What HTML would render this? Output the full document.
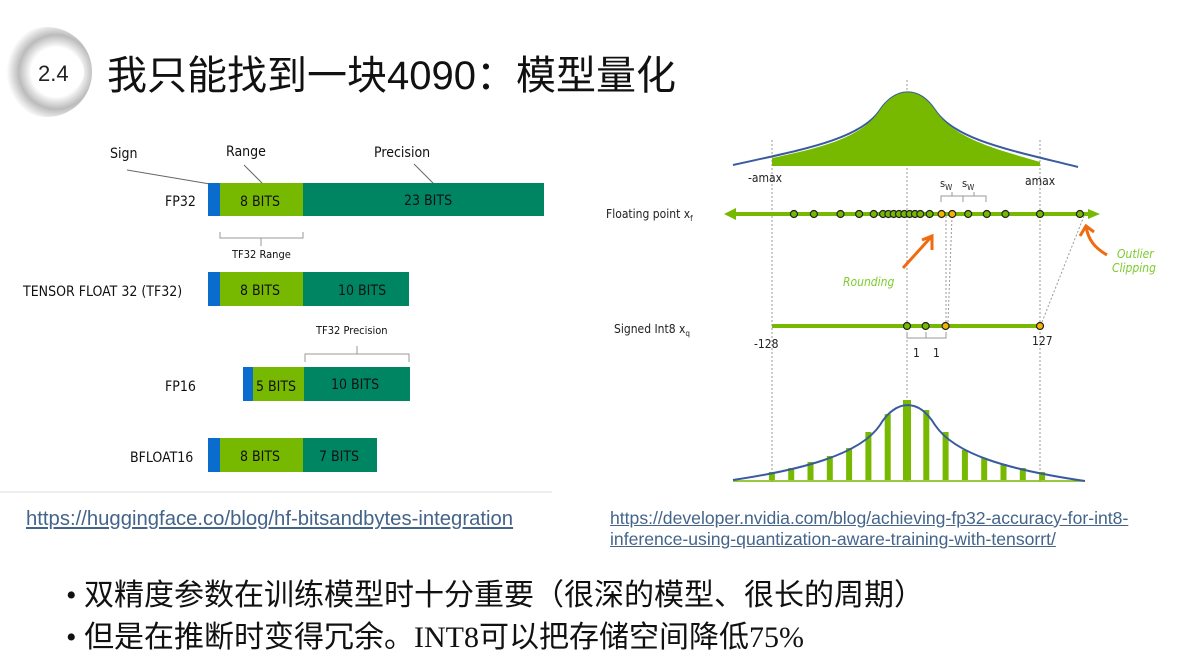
<!DOCTYPE html>
<html><head><meta charset="utf-8"><style>
body{margin:0;width:1186px;height:664px;background:#fff;overflow:hidden;font-family:"Liberation Sans","Noto Sans CJK SC",sans-serif;}
svg{position:absolute;left:0;top:0}
.lk{position:absolute;color:#44648a;text-decoration:underline;font-size:20.3px;white-space:nowrap}
.bl{position:absolute;left:66px;font-size:30px;color:#111;white-space:nowrap;font-family:"Liberation Serif","Noto Sans CJK SC",sans-serif;}
</style></head><body>
<svg width="1186" height="664">
<defs>
<radialGradient id="lg" cx="0.6" cy="0.5" r="0.55"><stop offset="0.5" stop-color="#fff"/><stop offset="0.75" stop-color="#bbb"/><stop offset="1" stop-color="#fff"/></radialGradient>
<marker id="ah" markerUnits="userSpaceOnUse" markerWidth="12" markerHeight="12" refX="6" refY="6" orient="auto"><path d="M0,1L12,6L0,11z" fill="#76b900"/></marker>
</defs>
<g>
<circle cx="47" cy="72" r="45" fill="url(#lg)"/>
<ellipse cx="60" cy="72" rx="24" ry="22" fill="#fff"/>
<text x="38" y="81" font-size="22" fill="#222">2.4</text>
</g>
<text x="107" y="89" font-size="40" fill="#111" font-family="'Liberation Sans','Noto Sans CJK SC',sans-serif">我只能找到一块4090：模型量化</text>
<line x1="0" y1="492" x2="552" y2="492" stroke="#eee" stroke-width="2"/>
<g font-family="'DejaVu Sans Condensed','Liberation Sans',sans-serif" font-size="14" fill="#111">
<text x="110" y="158">Sign</text><text x="226" y="156">Range</text><text x="374" y="157">Precision</text>
<line x1="127" y1="170" x2="210" y2="184" stroke="#666"/><line x1="244" y1="165" x2="263" y2="184" stroke="#666"/><line x1="414" y1="164" x2="434" y2="184" stroke="#666"/>
<g><rect x="208" y="183" width="12" height="33" fill="#0a6ccc"/><rect x="220" y="183" width="83" height="33" fill="#76b900"/><rect x="303" y="183" width="241" height="33" fill="#008563"/>
<text x="240" y="206">8 BITS</text><text x="404" y="205">23 BITS</text><text x="165" y="206">FP32</text></g>
<path d="M220,232v6h83v-6M261,238v8" stroke="#999" fill="none"/><text x="232" y="258" font-size="11">TF32 Range</text>
<g><rect x="208" y="272" width="12" height="34" fill="#0a6ccc"/><rect x="220" y="272" width="83" height="34" fill="#76b900"/><rect x="303" y="272" width="106" height="34" fill="#008563"/>
<text x="240" y="295">8 BITS</text><text x="338" y="295">10 BITS</text><text x="23" y="296">TENSOR FLOAT 32 (TF32)</text></g>
<text x="316" y="334" font-size="11">TF32 Precision</text><path d="M305,362v-8h104v8M357,354v-8" stroke="#999" fill="none"/>
<g><rect x="243" y="367" width="10" height="34" fill="#0a6ccc"/><rect x="253" y="367" width="51" height="34" fill="#76b900"/><rect x="304" y="367" width="106" height="34" fill="#008563"/>
<text x="256" y="391">5 BITS</text><text x="331" y="389">10 BITS</text><text x="165" y="391">FP16</text></g>
<g><rect x="208" y="438" width="12" height="34" fill="#0a6ccc"/><rect x="220" y="438" width="83" height="34" fill="#76b900"/><rect x="303" y="438" width="74" height="34" fill="#008563"/>
<text x="240" y="461">8 BITS</text><text x="319" y="461">7 BITS</text><text x="130" y="462">BFLOAT16</text></g>
</g>
<g id="quant" font-family="'DejaVu Sans Condensed','Liberation Sans',sans-serif" font-size="12" fill="#222">
<g stroke="#999" stroke-dasharray="2,2"><line x1="772" y1="140" x2="772" y2="482"/><line x1="907" y1="80" x2="907" y2="482"/><line x1="1040" y1="140" x2="1040" y2="482"/>
<line x1="946" y1="216" x2="946" y2="322"/><line x1="952" y1="216" x2="948" y2="322"/><line x1="1084" y1="216" x2="1042" y2="322"/></g>
<path d="M733,165 C800,150 860,140 880,110 C895,88 918,85 935,110 C955,140 1010,150 1078,167" fill="none" stroke="#3a5aa0" stroke-width="2"/>
<path d="M772,158 C820,148 862,138 880,110 C895,88 918,85 935,110 C955,140 1000,150 1040,162 L1040,166 L772,166Z" fill="#76b900"/>
<text x="748" y="182">-amax</text><text x="1025" y="185">amax</text>
<text x="940" y="187" font-size="11">s<tspan font-size="8" dy="3">W</tspan></text><text x="962" y="187" font-size="11">s<tspan font-size="8" dy="3">W</tspan></text>
<path d="M941,202v-6h22v6M952,196v-4M963,202v-6h23v6M974,196v-4" stroke="#999" fill="none"/>
<text x="606" y="218" font-size="12">Floating point x<tspan font-size="8" dy="3">f</tspan></text>
<line x1="730" y1="214" x2="1094" y2="214" stroke="#76b900" stroke-width="4" marker-end="url(#ah)"/>
<path d="M736,208L724,214L736,220z" fill="#76b900"/>
<g id="fdots"></g>
<text x="614" y="333">Signed Int8 x<tspan font-size="8" dy="3">q</tspan></text>
<line x1="772" y1="326" x2="1040" y2="326" stroke="#76b900" stroke-width="4"/>
<g id="qdots"></g>
<text x="754" y="348">-128</text><text x="1032" y="345">127</text>
<path d="M907,332v6h19v-6M926,332v6h20v-6" stroke="#999" fill="none"/><text x="913" y="357">1</text><text x="933" y="357">1</text>
<path d="M903,268 L932,236 M922,240 L932,236 L932,250" stroke="#f06a10" stroke-width="3" fill="none"/>
<path d="M1107,255 C1095,248 1088,240 1086,226 M1080,236 L1086,226 L1094,232" stroke="#f06a10" stroke-width="3" fill="none"/>
<text x="843" y="286" fill="#7ccc2c" font-style="italic">Rounding</text>
<text x="1117" y="258" fill="#7ccc2c" font-style="italic">Outlier</text><text x="1112" y="272" fill="#7ccc2c" font-style="italic">Clipping</text>
<line x1="733" y1="481" x2="1085" y2="481" stroke="#76b900" stroke-width="1.5"/>
<g id="hbars"></g>
<path d="M733,480 C800,470 860,455 880,425 C895,400 918,397 935,425 C955,455 1010,470 1085,481" fill="none" stroke="#3a5aa0" stroke-width="2"/>
</g>
</svg>
<a class="lk" style="left:26px;top:508px">https://huggingface.co/blog/hf-bitsandbytes-integration</a>
<a class="lk" style="left:610px;top:508px;font-size:17.6px;line-height:21px">https://developer.nvidia.com/blog/achieving-fp32-accuracy-for-int8-<br>inference-using-quantization-aware-training-with-tensorrt/</a>
<div class="bl" style="top:570px">• 双精度参数在训练模型时十分重要（很深的模型、很长的周期）</div>
<div class="bl" style="top:612px">• 但是在推断时变得冗余。INT8可以把存储空间降低75%</div>
<script>
// data
const floatVals=[-0.85,-0.7,-0.5,-0.36,-0.25,-0.18,-0.14,-0.1,-0.06,-0.02,0.02,0.06,0.1,0.17,0.26,0.34,0.46,0.6,0.74,1.0,1.3];
const floatHighlight=[0,0,0,0,0,0,0,0,0,0,0,0,0,0,1,1,0,0,0,0,0];
const int8Vals=[0,0.14,0.29,1.0];
const int8Highlight=[0,0,1,1];
const histBins=[-7,-6,-5,-4,-3,-2,-1,0,1,2,3,4,5,6,7];
const histCounts=[8,12,18,24,32,48,66,80,70,48,30,22,16,12,8];
// axes
const xF=v=>907+v*133;
const xH=b=>907+b*19.3;
const yH=c=>480-c;
const NS='http://www.w3.org/2000/svg';
function mk(t,a){const e=document.createElementNS(NS,t);for(const k in a)e.setAttribute(k,a[k]);return e;}
const fd=document.getElementById('fdots');
floatVals.forEach((v,i)=>{const c=mk('circle',{cx:xF(v),cy:214,r:3.5,fill:floatHighlight[i]?'#f5b400':'#76b900',stroke:'#222','stroke-width':1.2});

fd.appendChild(c);});
const qd=document.getElementById('qdots');
int8Vals.forEach((v,i)=>{const c=mk('circle',{cx:xF(v),cy:326,r:3.5,fill:int8Highlight[i]?'#f5b400':'#76b900',stroke:'#222','stroke-width':1.2});

qd.appendChild(c);});
const hb=document.getElementById('hbars');
histBins.forEach((b,i)=>{const r=mk('rect',{x:xH(b)-(b===0?4:3),y:yH(histCounts[i]),width:b===0?8:6,height:histCounts[i],fill:'#76b900'});

hb.appendChild(r);});
</script>
</body></html>
